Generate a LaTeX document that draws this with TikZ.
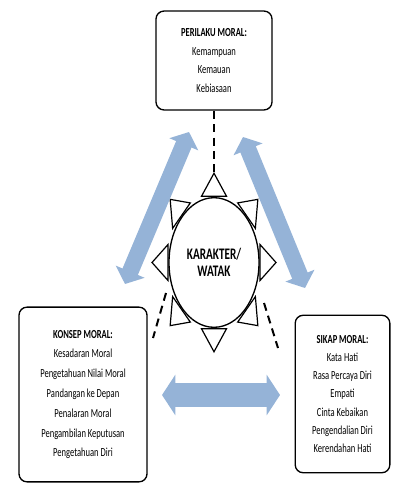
\documentclass[tikz,border=0pt]{standalone}
\usepackage{fontspec}
\setmainfont{Carlito}
\usetikzlibrary{arrows.meta}
\definecolor{moralblue}{HTML}{95B3D7}
\begin{document}
\begin{tikzpicture}[x=0.75pt, y=-0.75pt,
        moralbox/.style={draw, line width=1pt, rounded corners=6pt, align=center, inner sep=0pt, yscale=1.44, transform shape},
        dashline/.style={line width=1.5pt, dash pattern=on 6pt off 4pt},
        diagarrow/.style={moralblue, line width=12.5pt, {Triangle[width=23pt,length=10pt]}-{Triangle[width=23pt,length=10pt]}},
        flatarrow/.style={moralblue, line width=18pt, {Triangle[width=30pt,length=10pt]}-{Triangle[width=30pt,length=10pt]}}]
    \useasboundingbox (0,0) rectangle (393,484);
    \coordinate (perilakupos) at (214,60.5);
    \coordinate (konseppos) at (83,394.5);
    \coordinate (sikappos) at (342.5,394);
    \coordinate (karakterpos) at (214,262.5);
    \node[moralbox, minimum width=87pt, minimum height=51.5pt, font=\fontsize{6.4}{9.6}\selectfont] (perilaku) at (perilakupos)
        {\textbf{PERILAKU MORAL:}\\Kemampuan\\Kemauan\\Kebiasaan};
    \node[moralbox, minimum width=96pt, minimum height=91pt, font=\fontsize{6.4}{10.3}\selectfont] (konsep) at (konseppos)
        {\textbf{KONSEP MORAL:}\\Kesadaran Moral\\Pengetahuan Nilai Moral\\Pandangan ke Depan\\Penalaran Moral\\Pengambilan Keputusan\\Pengetahuan Diri};
    \node[moralbox, minimum width=71pt, minimum height=82pt, font=\fontsize{6.4}{9.4}\selectfont] (sikap) at (sikappos)
        {\textbf{SIKAP MORAL:}\\Kata Hati\\Rasa Percaya Diri\\Empati\\Cinta Kebaikan\\Pengendalian Diri\\Kerendahan Hati};
    \node[circle, draw, line width=1pt, minimum size=67.5pt, inner sep=0pt, align=center, yscale=1.44, transform shape,
        font=\bfseries\fontsize{8.4}{8.9}\selectfont] (karakter) at (karakterpos) {KARAKTER/\\WATAK};
    \begin{scope}[shift={(karakter.center)}, yscale=1.44]
        \foreach \a in {0,45,...,315}
            \draw[line width=0.9pt, rotate=\a] (46,-12.5) -- (46,12.5) -- (62,0) coordinate (tip\a) -- cycle;
    \end{scope}
    \coordinate (konsepdash1) at (166,293);
    \coordinate (konsepdash2) at (153,338);
    \coordinate (sikapdash1) at (264,303);
    \coordinate (sikapdash2) at (278,348);
    \draw[dashline] (perilaku) -- (tip90);
    \draw[dashline] (konsepdash1) -- (konsepdash2);
    \draw[dashline] (sikapdash1) -- (sikapdash2);
    \coordinate (leftarrowtop) at (189,132);
    \coordinate (leftarrowbot) at (125,284);
    \coordinate (rightarrowtop) at (243,137);
    \coordinate (rightarrowbot) at (305,288);
    \coordinate (flatarrowleft) at (162,395);
    \coordinate (flatarrowright) at (280,395);
    \draw[diagarrow] (leftarrowtop) -- (leftarrowbot);
    \draw[diagarrow] (rightarrowtop) -- (rightarrowbot);
    \draw[flatarrow] (flatarrowleft) -- (flatarrowright);
\end{tikzpicture}
\end{document}
